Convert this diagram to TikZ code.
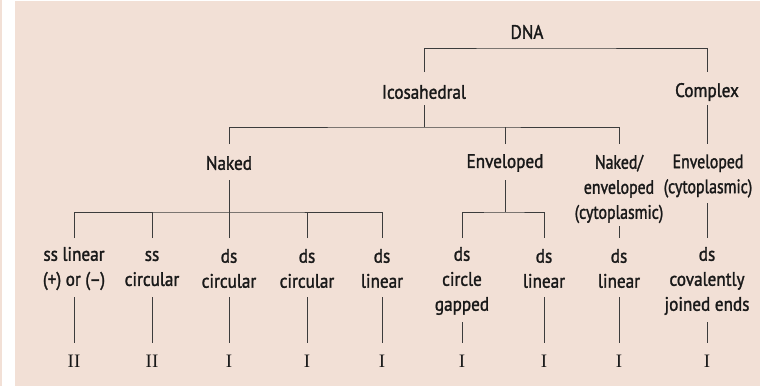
\documentclass[tikz,border=0pt]{standalone}
\usepackage{fontspec}
\setmainfont{PT Sans}[FakeStretch=0.88,FakeBold=1.5]
\newfontfamily\narrowfont{PT Sans}[FakeStretch=0.81,FakeBold=1.5]
\newfontfamily\numfont{Liberation Serif}
\definecolor{paper}{RGB}{242,224,214}
\definecolor{ink}{RGB}{25,25,25}
\definecolor{wire}{RGB}{60,60,60}
\begin{document}
\begin{tikzpicture}[x=1pt,y=-1pt,
  lbl/.style={inner sep=0pt,align=center,text=ink,font=\fontsize{19.5}{25}\selectfont},
  tight/.style={lbl,font=\narrowfont\fontsize{19.5}{25}\selectfont},
  num/.style={inner sep=0pt,text=ink,font=\numfont\fontsize{19}{22}\selectfont},
  link/.style={draw=wire,line width=1pt}]
% page and panel
\useasboundingbox (0,0) rectangle (760,386);
\fill[white] (0,0) rectangle (760,386);
\fill[paper] (15,1) rectangle (760,386);
\fill[paper] (0,0) rectangle (1.5,386);

% level 0 and 1
\node[lbl] (dna) at (527,32) {DNA};
\node[lbl] (ico) at (424,92) {Icosahedral};
\node[lbl] (cpx) at (707,92) {Complex};

% level 2
\node[lbl] (nak)  at (229,163) {Naked};
\node[lbl] (env)  at (505,163) {Enveloped};
\node[tight] (nenv) at (619,189) {Naked/\\enveloped\\(cytoplasmic)};
\node[tight] (envc) at (708,176) {Enveloped\\(cytoplasmic)};

% level 3: genome types
\node[lbl] (a1) at (74,268.5)  {ss linear\\(+) or (--)};
\node[lbl] (a2) at (152,268.5) {ss\\circular};
\node[lbl] (a3) at (229,268.5) {ds\\circular};
\node[lbl] (a4) at (307,268.5) {ds\\circular};
\node[lbl] (a5) at (382,268.5) {ds\\linear};
\node[lbl] (b1) at (462,281)   {ds\\circle\\gapped};
\node[lbl] (b2) at (544,268.5) {ds\\linear};
\node[lbl] (c1) at (619,268.5) {ds\\linear};
\node[lbl] (d1) at (707,281)   {ds\\covalently\\joined ends};

% Baltimore classes
\foreach \n/\x/\t in {n1/74/II,n2/152/II,n3/229/I,n4/307/I,n5/382/I,
                      n6/462/I,n7/544/I,n8/619/I,n9/707/I}
  \node[num] (\n) at (\x,361.5) {\t};

% DNA split
\draw[link] ([yshift=20pt]ico.center) |- ([yshift=-16pt]dna.center)
            -| ([yshift=20pt]cpx.center);

% Icosahedral branch
\coordinate (j1) at (424,127);
\draw[link] ([yshift=-13pt]ico.center) -- (j1);
\draw[link] ([yshift=19pt]nak.center) |- (j1) -| ([yshift=45pt]nenv.center);
\draw[link] ([yshift=19pt]env.center) -- (env.center |- j1);

% Complex branch
\draw[link] ([yshift=-13pt]cpx.center) -- ([yshift=32pt]envc.center -| cpx.center);

% Naked branch
\coordinate (j2) at (229,212);
\draw[link] ([yshift=-17pt]nak.center) -- (j2);
\draw[link] ([yshift=30.5pt]a1.center) |- (j2) -| ([yshift=30.5pt]a5.center);
\draw[link] ([yshift=30.5pt]a2.center) -- (a2.center |- j2);
\draw[link] ([yshift=30.5pt]a3.center) -- (a3.center |- j2);
\draw[link] ([yshift=30.5pt]a4.center) -- (a4.center |- j2);

% Enveloped branch
\coordinate (j3) at (505,212);
\draw[link] ([yshift=-17pt]env.center) -- (j3);
\draw[link] ([yshift=43pt]b1.center) |- (j3) -| ([yshift=30.5pt]b2.center);

% cytoplasmic branches
\draw[link] ([yshift=-37pt]nenv.center) -- ([yshift=30.5pt]c1.center);
\draw[link] ([yshift=-27pt]envc.center -| d1.center) -- ([yshift=43pt]d1.center);

% genome to class
\foreach \g/\n in {a1/n1,a2/n2,a3/n3,a4/n4,a5/n5,b2/n7,c1/n8}
  \draw[link] ([yshift=-28.5pt]\g.center) -- ([yshift=19pt]\n.center);
\foreach \g/\n in {b1/n6,d1/n9}
  \draw[link] ([yshift=-41pt]\g.center) -- ([yshift=19pt]\n.center);
\end{tikzpicture}
\end{document}
